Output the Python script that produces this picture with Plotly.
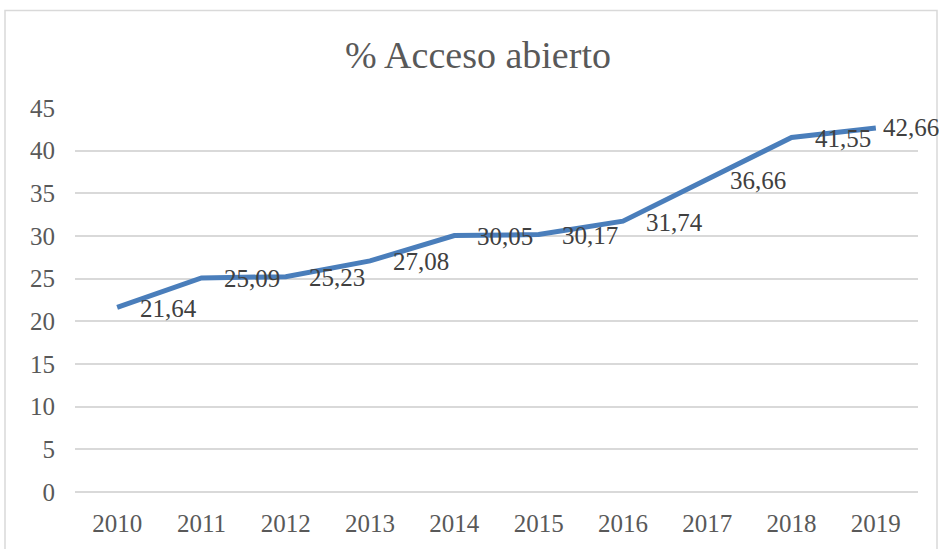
import plotly.graph_objects as go

years = ["2010", "2011", "2012", "2013", "2014", "2015", "2016", "2017", "2018", "2019"]
values = [21.64, 25.09, 25.23, 27.08, 30.05, 30.17, 31.74, 36.66, 41.55, 42.66]
labels = ["21,64", "25,09", "25,23", "27,08", "30,05", "30,17", "31,74", "36,66", "41,55", "42,66"]
title = "% Acceso abierto"

FONT = "Liberation Serif, DejaVu Serif, serif"

fig = go.Figure()
fig.add_trace(go.Scatter(
    x=years, y=values, mode="lines",
    line=dict(color="#4a7ebb", width=5),
    hoverinfo="skip",
))

n = len(values)
for i, (v, lab) in enumerate(zip(values, labels)):
    last = i == n - 1
    fig.add_annotation(x=i, y=v, text=lab, showarrow=False,
                       xanchor="left", yanchor="middle",
                       xshift=5 if last else 21, yshift=0 if last else -1,
                       font=dict(family=FONT, size=25, color="#404040"))

W, H = 939, 549
L, R, T, B = 75, 21, 108, 55
pw, ph = W - L - R, H - T - B

def px_x(x):
    return (x - L) / pw

def px_y(y):
    return (H - B - y) / ph

fig.update_layout(
    width=W, height=H,
    margin=dict(l=L, r=R, t=T, b=B, pad=0),
    paper_bgcolor="white", plot_bgcolor="white",
    showlegend=False,
    title=dict(text=title, xref="container", x=478 / W, xanchor="center",
               yref="container", y=1 - 55 / H, yanchor="middle",
               font=dict(family=FONT, size=38, color="#595959")),
    xaxis=dict(type="category", range=[-0.5, n - 0.5], autorange=False,
               showgrid=False, zeroline=False, showline=False,
               ticks="", tickfont=dict(family=FONT, size=25, color="#595959"),
               ticklabelstandoff=14, fixedrange=True),
    yaxis=dict(range=[0, 45], dtick=5, showgrid=True, gridcolor="#d9d9d9", gridwidth=1.5,
               zeroline=True, zerolinecolor="#d9d9d9", zerolinewidth=1.5,
               showline=False, ticks="",
               tickfont=dict(family=FONT, size=25, color="#595959"),
               ticklabelstandoff=19, fixedrange=True),
    shapes=[dict(type="rect", xref="paper", yref="paper",
                 x0=px_x(5), x1=px_x(937), y0=px_y(560), y1=px_y(10),
                 line=dict(color="#d9d9d9", width=1.5), fillcolor="rgba(0,0,0,0)",
                 layer="below")],
)

fig.write_html("out.html", config={"displayModeBar": False},
               post_script="document.body.style.margin='0';document.body.style.overflow='hidden';")
